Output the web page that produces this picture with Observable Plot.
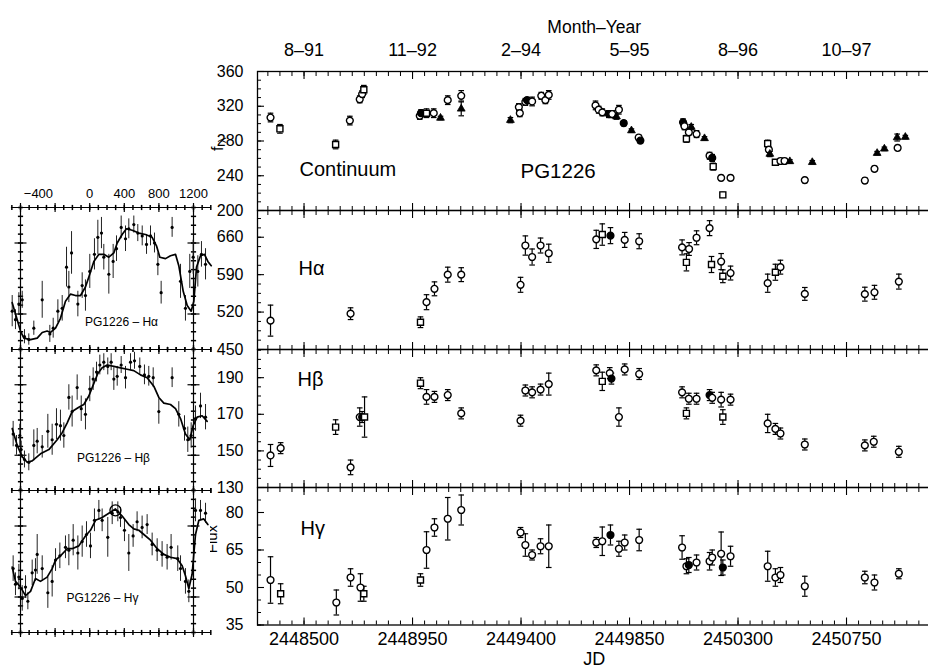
<!DOCTYPE html>
<html>
<head>
<meta charset="utf-8">
<script src="https://cdn.jsdelivr.net/npm/d3@7"></script>
<script src="https://cdn.jsdelivr.net/npm/@observablehq/plot@0.6"></script>
<style>
  html, body { margin: 0; padding: 0; background: #fff; }
  #chart { position: relative; width: 928px; height: 671px; overflow: hidden; background: #fff; }
</style>
</head>
<body>
<div id="chart"></div>
<script>
// ---------- time axis ----------
const xMajor = [2448500, 2448950, 2449400, 2449850, 2450300, 2450750];
const monthLabels = ["8–91", "11–92", "2–94", "5–95", "8–96", "10–97"];
const jdDomain = [2448307, 2451100];

// ---------- continuum light curve (f_lambda) ----------
const contJD = [2448361, 2448400, 2448631, 2448690, 2448731, 2448741, 2448748, 2448980, 2448985, 2449008, 2449038, 2449066, 2449096, 2449152, 2449152, 2449356, 2449391, 2449395, 2449418, 2449425, 2449446, 2449484, 2449501, 2449515, 2449709, 2449722, 2449737, 2449764, 2449778, 2449806, 2449796, 2449826, 2449858, 2449888, 2449895, 2450072, 2450078, 2450086, 2450096, 2450106, 2450128, 2450161, 2450182, 2450193, 2450197, 2450230, 2450269, 2450237, 2450423, 2450428, 2450432, 2450455, 2450476, 2450493, 2450515, 2450577, 2450608, 2450826, 2450866, 2450877, 2450907, 2450960, 2450962, 2450994];
const contFlux = [307, 294, 276, 303.5, 328, 334, 339, 309, 312, 312, 312, 306.5, 327, 332, 317, 304, 319, 312, 325, 327, 325.5, 332, 327, 333, 321, 316, 313, 311, 311, 316, 308, 300.5, 292, 284, 280.5, 301.5, 297, 282.5, 290, 296, 288, 283, 263, 260.5, 250.5, 237.5, 237.5, 218, 277, 270, 265, 255.5, 257, 257, 256.5, 235, 255.5, 234.5, 248, 266, 271, 284, 272, 284.5];
const contErr = [5, 5, 5, 5, 4, 4, 5, 4, 4, 5, 5, 2, 5, 6, 8, 3, 4, 4, 4, 3, 5, 4, 4, 5, 5, 4, 4, 4, 4, 5, 3, 3, 2, 3, 3, 4, 4, 4, 3, 3, 4, 2, 4, 4, 4, 3, 3, 3, 4, 3, 3, 3, 3, 3, 2, 3, 2, 3, 3, 2, 2, 4, 3, 2];
const contSrc = ["A","B","B","A","A","A","B","A","D","B","A","C","A","A","C","C","A","A","A","D","A","A","A","A","A","A","A","D","A","A","C","D","C","A","D","D","A","B","A","C","A","C","A","D","B","A","A","B","B","A","C","B","A","A","C","A","C","A","A","C","C","C","A","C"];

// ---------- H-alpha ----------
const haJD = [2448361, 2448693, 2448983, 2449008, 2449041, 2449096, 2449152, 2449398, 2449418, 2449446, 2449481, 2449515, 2449712, 2449737, 2449771, 2449830, 2449890, 2450068, 2450086, 2450097, 2450128, 2450182, 2450190, 2450230, 2450237, 2450269, 2450423, 2450455, 2450476, 2450577, 2450826, 2450866, 2450967];
const haFlux = [504, 517, 501, 538.5, 563.5, 590, 590, 571, 644.5, 623, 644.5, 630, 656, 665, 663, 655, 652.5, 641, 613, 638, 659, 677, 609, 614.5, 587, 593, 574, 594.5, 604, 554, 553.5, 557, 577];
const haErr = [29, 11, 10, 14, 13, 14, 13, 14, 18, 15, 14, 17, 17, 20, 15, 14, 14, 14, 16, 12, 13, 14, 15, 15, 12, 13, 17, 15, 13, 12, 13, 13, 14];
const haSrc = ["A","A","B","A","A","A","A","A","A","A","A","A","A","B","D","A","A","A","B","A","A","A","B","A","B","A","A","B","A","A","A","A","A"];

// ---------- H-beta ----------
const hbJD = [2448361, 2448403, 2448631, 2448693, 2448731, 2448741, 2448751, 2448983, 2449008, 2449041, 2449096, 2449152, 2449398, 2449418, 2449446, 2449481, 2449515, 2449712, 2449737, 2449768, 2449775, 2449806, 2449830, 2449890, 2450068, 2450086, 2450096, 2450128, 2450182, 2450193, 2450230, 2450237, 2450269, 2450423, 2450455, 2450476, 2450577, 2450826, 2450863, 2450967];
const hbFlux = [147.5, 151.5, 163, 141, 168.5, 168.5, 168.5, 187, 179.5, 179.5, 180.5, 170.5, 166.5, 183, 182, 183.5, 186.5, 194, 188, 192.5, 189.5, 168.5, 194.5, 192, 182, 170.5, 178.5, 178.5, 180.5, 179, 178, 168.5, 178, 165, 162, 159.5, 153.5, 153, 155, 149.5];
const hbErr = [6, 3, 4, 4, 5, 3, 11, 3, 4, 3, 3, 3, 3, 3, 3, 3, 6, 3, 5, 3, 3, 5, 3, 3, 3, 3, 3, 3, 3, 3, 4, 4, 3, 5, 3, 3, 3, 3, 3, 3];
const hbSrc = ["A","A","B","A","A","D","B","B","A","A","A","A","A","A","A","A","A","A","B","A","D","A","A","A","A","B","A","A","D","A","A","B","A","A","A","A","A","A","A","A"];

// ---------- H-gamma ----------
const hgJD = [2448361, 2448403, 2448634, 2448693, 2448734, 2448748, 2448983, 2449008, 2449041, 2449096, 2449152, 2449398, 2449418, 2449446, 2449481, 2449515, 2449712, 2449737, 2449771, 2449806, 2449830, 2449890, 2450068, 2450086, 2450096, 2450128, 2450182, 2450193, 2450230, 2450237, 2450269, 2450423, 2450455, 2450476, 2450577, 2450826, 2450866, 2450967];
const hgFlux = [53, 47.5, 44, 54, 50, 47.5, 53, 65, 74, 77.5, 81, 72, 67, 63, 66.5, 66.5, 68, 68.5, 71, 65.5, 68, 69, 66, 58.5, 59, 60, 60.5, 62, 63.5, 58, 62.5, 58.5, 54, 55, 50.5, 54, 52, 55.5];
const hgErr = [9.3, 4, 5, 3.5, 5.5, 3, 2.5, 7.3, 3.5, 8.5, 6, 2, 4.5, 2, 3, 8.5, 2, 5.7, 4, 3, 3, 4.3, 4.7, 3, 3, 3, 3.5, 3, 8.7, 3, 4, 6, 3.5, 3, 4, 2.5, 3, 2];
const hgSrc = ["A","B","A","A","A","B","B","A","A","A","A","A","A","A","A","A","A","A","D","A","A","A","A","A","D","A","A","A","A","D","A","A","A","A","A","A","A","A"];

// ---------- cross-correlation insets (lag in days) ----------
const haIccfLag = [-896,-838,-800,-761,-684,-607,-549,-492,-453,-395,-338,-280,-222,-164,-106,-49,-10,48,106,163,221,279,318,375,425,491,568,645,722,772,811,876,934,992,1030,1081,1127,1173,1204,1235,1281,1327,1366,1405];
const haIccfR = [.33,.21,.13,.08,.07,.08,.12,.13,.12,.15,.22,.34,.39,.38,.38,.44,.51,.62,.67,.67,.65,.68,.75,.81,.85,.84,.82,.81,.79,.73,.65,.64,.66,.67,.59,.41,.31,.27,.34,.58,.66,.67,.62,.59];
const haZLag = [-896,-858,-819,-780,-754,-704,-646,-549,-461,-422,-368,-318,-268,-241,-210,-137,-87,-49,1,55,94,136,163,221,271,310,364,414,452,510,556,607,657,703,749,788,826,953,1050,1107,1157,1196,1250,1292,1339];
const haZR = [.27,.21,.32,.35,.09,.07,.15,.35,.11,.15,.27,.29,.58,.44,.68,.32,.45,.38,.55,.67,.79,.82,.65,.53,.62,.71,.86,.78,.85,.88,.82,.80,.74,.80,.75,.60,.40,.86,.48,.29,.55,.65,.55,.67,.60];
const haZErr = [.11,.07,.08,.06,.05,.04,.05,.13,.06,.07,.08,.09,.14,.11,.15,.09,.09,.11,.12,.11,.12,.11,.09,.14,.12,.09,.08,.09,.07,.06,.06,.07,.07,.07,.07,.08,.08,.07,.12,.09,.12,.12,.11,.09,.11];

const hbIccfLag = [-896,-838,-781,-723,-665,-569,-472,-376,-318,-260,-203,-126,-68,-10,48,94,144,202,279,356,433,510,587,664,741,799,857,934,992,1050,1107,1157,1196,1242,1300,1358];
const hbIccfR = [.44,.32,.24,.20,.21,.26,.29,.36,.41,.48,.56,.59,.61,.67,.76,.83,.87,.89,.88,.87,.86,.85,.82,.80,.74,.66,.62,.61,.58,.51,.40,.36,.46,.52,.53,.49];
const hbZLag = [-885,-846,-808,-792,-754,-704,-646,-607,-549,-484,-434,-384,-338,-299,-241,-203,-145,-98,-49,1,40,79,117,163,209,248,279,318,364,414,472,518,579,633,683,734,799,953,1030,1096,1134,1173,1223,1281,1339];
const hbZR = [.40,.32,.39,.29,.22,.20,.32,.35,.31,.42,.36,.47,.46,.39,.66,.56,.73,.58,.54,.72,.79,.84,.89,.91,.88,.91,.79,.81,.89,.80,.91,.92,.88,.82,.81,.80,.56,.80,.54,.44,.36,.39,.51,.60,.52];
const hbZErr = [.09,.07,.08,.06,.06,.06,.11,.09,.08,.12,.11,.11,.11,.09,.09,.11,.09,.09,.11,.09,.08,.07,.07,.06,.06,.06,.08,.07,.06,.08,.06,.06,.06,.07,.07,.07,.09,.07,.09,.09,.09,.09,.09,.09,.09];

const hgIccfLag = [-896,-858,-800,-742,-684,-627,-569,-492,-434,-395,-338,-260,-203,-126,-49,9,67,144,221,298,375,452,510,568,626,703,780,857,934,1011,1069,1107,1146,1184,1223,1262,1319,1366];
const hgIccfR = [.46,.36,.32,.26,.29,.38,.36,.39,.45,.51,.54,.59,.59,.61,.68,.72,.79,.81,.84,.87,.82,.76,.73,.72,.69,.65,.59,.55,.53,.52,.47,.40,.31,.41,.69,.79,.80,.76];
const hgZLag = [-885,-858,-819,-780,-742,-715,-665,-627,-607,-549,-484,-434,-395,-345,-280,-241,-191,-137,-87,-37,9,55,106,144,209,260,325,356,402,452,502,548,606,664,722,780,837,895,941,1018,1050,1107,1146,1223,1281,1339];
const hgZR = [.45,.34,.39,.24,.32,.22,.42,.44,.55,.45,.28,.36,.51,.54,.60,.58,.65,.56,.64,.69,.61,.79,.86,.79,.67,.84,.85,.81,.72,.56,.68,.78,.74,.76,.62,.58,.55,.53,.60,.52,.45,.36,.29,.86,.86,.84];
const hgZErr = [.09,.08,.09,.09,.08,.06,.09,.08,.14,.09,.11,.11,.08,.09,.08,.11,.11,.12,.11,.09,.09,.08,.07,.08,.14,.08,.07,.07,.08,.13,.08,.07,.08,.07,.08,.08,.09,.09,.09,.09,.09,.09,.08,.08,.07,.07];
const hgPeakLag = [298];
const hgPeakR = [.86];

const lagTickLabels = [-400, 0, 400, 800, 1200];

// ---------- helpers ----------
const chart = document.getElementById("chart");
const FONT = "'Liberation Sans', Arial, Helvetica, sans-serif";
const baseStyle = `position:absolute;left:0;overflow:visible;max-width:none;font-family:${FONT};font-size:16px;color:black;`;

// short horizontal / vertical strokes used for error-bar caps and crossing ticks
const hTick = { draw(ctx, size) { const w = Math.sqrt(size / Math.PI); ctx.moveTo(-w, 0); ctx.lineTo(w, 0); } };
const vTick = { draw(ctx, size) { const w = Math.sqrt(size / Math.PI); ctx.moveTo(0, -w); ctx.lineTo(0, w); } };

const inJD = t => t >= jdDomain[0] && t <= jdDomain[1];
const xMinor = d3.range(2448350, jdDomain[1], 50).filter(inJD);

function rowsOf(jd, v, e, src) {
  return jd.map((d, i) => ({ jd: d, v: v[i], e: e[i], src: src[i] }));
}

function frameTicks(yMajor, yMinor) {
  return [
    Plot.axisX({ ticks: xMajor, anchor: "top", tickSize: 7, dy: 7, fill: "none", label: null, strokeWidth: 1.1 }),
    Plot.axisX({ ticks: xMinor, anchor: "top", tickSize: 4, dy: 4, fill: "none", label: null }),
    Plot.axisX({ ticks: xMajor, anchor: "bottom", tickSize: 7, dy: -7, fill: "none", label: null, strokeWidth: 1.1 }),
    Plot.axisX({ ticks: xMinor, anchor: "bottom", tickSize: 4, dy: -4, fill: "none", label: null }),
    Plot.axisY({ ticks: yMajor, anchor: "left", tickSize: 7, dx: 7, fill: "none", label: null, strokeWidth: 1.1 }),
    Plot.axisY({ ticks: yMinor, anchor: "left", tickSize: 4, dx: 4, fill: "none", label: null }),
    Plot.axisY({ ticks: yMajor, anchor: "left", tickSize: 0, tickPadding: 14, fontSize: 16, label: null, tickFormat: d3.format("d") })
  ];
}

function dataMarks(rows) {
  const markers = rows.filter(d => d.src !== "C");
  const triangles = rows.filter(d => d.src === "C");
  return [
    Plot.ruleX(rows, { x: "jd", y1: d => d.v - d.e, y2: d => d.v + d.e, stroke: "black", strokeWidth: 1.2 }),
    Plot.dot(rows, { x: "jd", y: d => d.v - d.e, symbol: hTick, r: 2.8, stroke: "black", fill: "none", strokeWidth: 1.2 }),
    Plot.dot(rows, { x: "jd", y: d => d.v + d.e, symbol: hTick, r: 2.8, stroke: "black", fill: "none", strokeWidth: 1.2 }),
    Plot.dot(markers, {
      x: "jd", y: "v",
      symbol: d => d.src === "B" ? "square" : "circle",
      r: 3.4, stroke: "black", strokeWidth: 1.4,
      fill: d => d.src === "D" ? "black" : "white"
    }),
    Plot.dot(triangles, { x: "jd", y: "v", symbol: "triangle", r: 2.9, fill: "black", stroke: "black", strokeWidth: 0.8 })
  ];
}

function lightCurvePanel({ rows, yDomain, yMajor, yMinor, top, height, marginTop = 0, marginBottom = 0, marks = [] }) {
  const svg = Plot.plot({
    width: 932,
    height: height + marginTop + marginBottom,
    marginLeft: 257, marginRight: 1.6, marginTop, marginBottom,
    style: baseStyle + "background:transparent;",
    x: { domain: jdDomain },
    y: { domain: yDomain },
    marks: [
      ...frameTicks(yMajor, yMinor),
      ...dataMarks(rows),
      Plot.frame({ stroke: "black", strokeWidth: 1.3 }),
      ...marks
    ]
  });
  svg.style.top = top + "px";
  chart.appendChild(svg);
}

const titleText = (s, dx, dy, size = 20) =>
  Plot.text([s], { frameAnchor: "top-left", dx, dy, textAnchor: "start", lineAnchor: "middle", fontSize: size });

// ---------- main light-curve panels ----------
lightCurvePanel({
  rows: rowsOf(contJD, contFlux, contErr, contSrc),
  yDomain: [200, 360], yMajor: [200, 240, 280, 320, 360], yMinor: d3.range(200, 361, 10),
  top: 0, marginTop: 71, height: 139,
  marks: [
    Plot.axisX({ ticks: xMajor, anchor: "top", tickSize: 0, tickPadding: 16, fontSize: 18, label: null,
                 tickFormat: d => monthLabels[xMajor.indexOf(d)] }),
    Plot.text(["Month–Year"], { frameAnchor: "top", dy: -51, fontSize: 17.5 }),
    titleText("Continuum", 42, 98),
    titleText("PG1226", 263, 100, 20.5),
    Plot.text(["f"], { frameAnchor: "left", dx: -40, dy: 10, rotate: -90, fontSize: 16 }),
    Plot.text(["λ"], { frameAnchor: "left", dx: -35, dy: 2, rotate: -90, fontSize: 11 })
  ]
});

lightCurvePanel({
  rows: rowsOf(haJD, haFlux, haErr, haSrc),
  yDomain: [450, 710], yMajor: [450, 520, 590, 660], yMinor: d3.range(450, 711, 17.5),
  top: 210, height: 139,
  marks: [titleText("Hα", 41, 58)]
});

lightCurvePanel({
  rows: rowsOf(hbJD, hbFlux, hbErr, hbSrc),
  yDomain: [130, 205.4], yMajor: [130, 150, 170, 190], yMinor: d3.range(130, 206, 5),
  top: 349, height: 138,
  marks: [titleText("Hβ", 40, 30)]
});

lightCurvePanel({
  rows: rowsOf(hgJD, hgFlux, hgErr, hgSrc),
  yDomain: [35, 90], yMajor: [35, 50, 65, 80], yMinor: d3.range(35, 91, 5),
  top: 487, height: 137.5, marginBottom: 47,
  marks: [
    titleText("Hγ", 43, 41),
    Plot.axisX({ ticks: xMajor, anchor: "bottom", tickSize: 0, tickPadding: 7, fontSize: 18, label: null, tickFormat: d3.format("d") }),
    Plot.text(["JD"], { frameAnchor: "bottom", dy: 40, fontSize: 18 }),
    Plot.text(["Flux"], { frameAnchor: "left", dx: -45, dy: -3, rotate: -90, fontSize: 15 })
  ]
});

// ---------- cross-correlation insets ----------
const lagMinor = d3.range(-900, 1401, 100);
const lagMajor = [-800, -400, 0, 400, 800, 1200];
const lagAxes = [-800, 1200];
const rMinor = d3.range(0, 1.0001, 1 / 16);
const rMajor = [0.25, 0.75];
const cross = (xs, ys) => xs.flatMap(x => ys.map(y => ({ x, y })));

function ccfInset({ top, height, marginTop = 0, iccfLag, iccfR, zLag, zR, zErr, title, tdx, tdy, marks = [] }) {
  const curve = iccfLag.map((l, i) => ({ lag: l, r: iccfR[i] }));
  const pts = zLag.map((l, i) => ({ lag: l, r: zR[i], e: zErr[i] }));
  const svg = Plot.plot({
    width: 210, height: height + marginTop,
    marginLeft: 11, marginRight: 0, marginTop, marginBottom: 0,
    style: baseStyle + "background:white;",
    x: { domain: [-800, 1200], range: [20, 193], axis: null },
    y: { domain: [0, 1], axis: null },
    marks: [
      Plot.frame({ anchor: "top", stroke: "black", strokeWidth: 1.2 }),
      Plot.frame({ anchor: "bottom", stroke: "black", strokeWidth: 1.2 }),
      Plot.ruleX(lagAxes, { stroke: "black", strokeWidth: 1.2 }),
      Plot.dot(cross(lagAxes, rMinor), { x: "x", y: "y", symbol: hTick, r: 2.6, stroke: "black", fill: "none" }),
      Plot.dot(cross(lagAxes, rMajor), { x: "x", y: "y", symbol: hTick, r: 6, stroke: "black", fill: "none", strokeWidth: 1.2 }),
      Plot.dot(cross(lagMinor, [0, 1]), { x: "x", y: "y", symbol: vTick, r: 2.6, stroke: "black", fill: "none" }),
      Plot.dot(cross(lagMajor, [0, 1]), { x: "x", y: "y", symbol: vTick, r: 4.5, stroke: "black", fill: "none", strokeWidth: 1.2 }),
      Plot.ruleX(pts, { x: "lag", y1: d => d.r - d.e, y2: d => d.r + d.e, stroke: "#222", strokeWidth: 1 }),
      Plot.dot(pts, { x: "lag", y: "r", r: 1.6, fill: "black" }),
      Plot.line(curve, { x: "lag", y: "r", stroke: "black", strokeWidth: 1.7 }),
      Plot.text([title], { frameAnchor: "bottom-left", dx: tdx, dy: tdy, textAnchor: "middle", fontSize: 12 }),
      ...marks
    ]
  });
  svg.style.top = top + "px";
  chart.appendChild(svg);
}

ccfInset({
  top: 177, marginTop: 30, height: 142,
  iccfLag: haIccfLag, iccfR: haIccfR, zLag: haZLag, zR: haZR, zErr: haZErr,
  title: "PG1226 – Hα", tdx: 110, tdy: -24,
  marks: [
    Plot.text(lagTickLabels.filter(d => d >= 0), { x: d => d, text: d => String(d), frameAnchor: "top", dy: -19, fontSize: 13 }),
    Plot.text(lagTickLabels.filter(d => d < 0), { x: d => d, text: d => "−" + Math.abs(d), frameAnchor: "top", dy: -19, dx: -2, textAnchor: "end", fontSize: 13 })
  ]
});

ccfInset({
  top: 349, height: 141,
  iccfLag: hbIccfLag, iccfR: hbIccfR, zLag: hbZLag, zR: hbZR, zErr: hbZErr,
  title: "PG1226 – Hβ", tdx: 102, tdy: -29
});

ccfInset({
  top: 490, height: 142,
  iccfLag: hgIccfLag, iccfR: hgIccfR, zLag: hgZLag, zR: hgZR, zErr: hgZErr,
  title: "PG1226 – Hγ", tdx: 91, tdy: -31,
  marks: [
    Plot.dot(hgPeakLag.map((l, i) => ({ lag: l, r: hgPeakR[i] })), { x: "lag", y: "r", r: 5.5, stroke: "black", fill: "none", strokeWidth: 1.3 })
  ]
});
</script>
</body>
</html>
